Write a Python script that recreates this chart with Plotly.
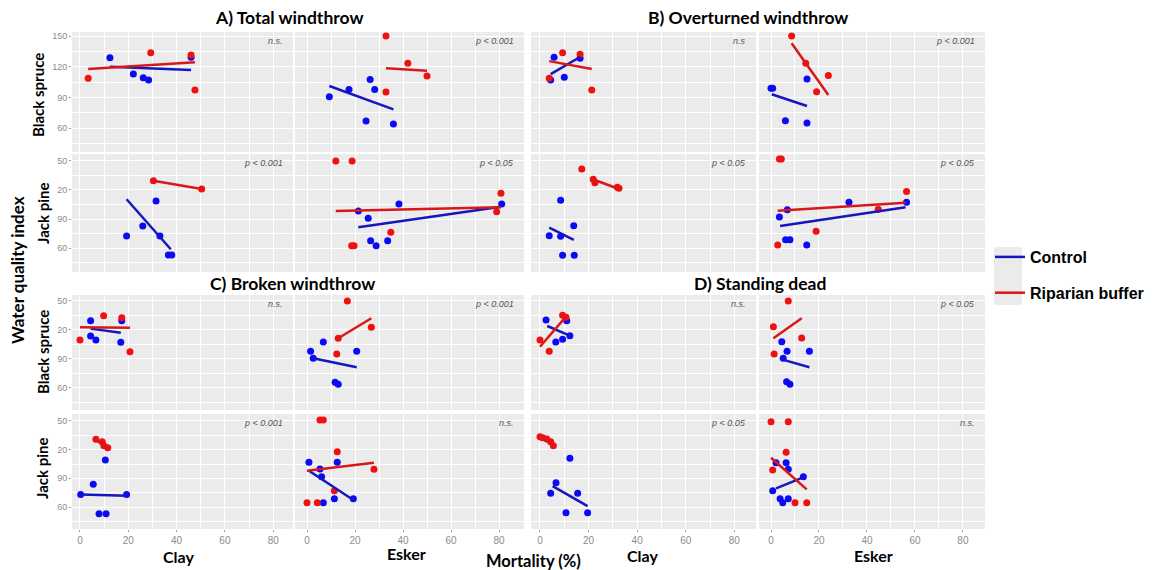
import plotly.graph_objects as go

# ---------------- DATA ----------------
# Mortality (%) on x, Water quality index on y.
# ctrl = Control (blue), rip = Riparian buffer (red); *_FIT = [x0, x1], [y0, y1] of lm lines

# A) Total windthrow
A_BS_CLAY_CTRL_X = [12.4, 22.1, 26.2, 28.4, 46.0]
A_BS_CLAY_CTRL_Y = [128.8, 112.8, 109.2, 107.0, 129.2]
A_BS_CLAY_RIP_X = [3.4, 29.3, 46.0, 47.6]
A_BS_CLAY_RIP_Y = [108.6, 133.7, 131.4, 97.2]
A_BS_CLAY_CTRL_FIT = ([12.4, 46.0], [120.0, 116.7])
A_BS_CLAY_RIP_FIT = ([3.4, 47.6], [117.7, 124.3])

A_BS_ESKER_CTRL_X = [9.3, 17.5, 26.3, 28.2, 24.6, 36.0]
A_BS_ESKER_CTRL_Y = [90.6, 97.8, 107.6, 97.8, 66.8, 63.9]
A_BS_ESKER_RIP_X = [32.9, 42.0, 50.0, 32.9]
A_BS_ESKER_RIP_Y = [150.0, 123.3, 110.9, 95.2]
A_BS_ESKER_CTRL_FIT = ([9.3, 36.0], [101.1, 78.3])
A_BS_ESKER_RIP_FIT = ([32.9, 50.0], [118.4, 116.0])

A_JP_CLAY_CTRL_X = [19.3, 26.0, 31.5, 33.1, 36.6, 38.0]
A_JP_CLAY_CTRL_Y = [72.4, 82.8, 108.6, 72.4, 52.8, 52.8]
A_JP_CLAY_RIP_X = [30.4, 50.4]
A_JP_CLAY_RIP_Y = [129.6, 121.0]
A_JP_CLAY_CTRL_FIT = ([19.3, 37.6], [110.4, 58.7])
A_JP_CLAY_RIP_FIT = ([30.4, 50.4], [129.6, 121.0])

A_JP_ESKER_CTRL_X = [21.4, 25.5, 38.3, 26.5, 28.8, 33.6, 81.1]
A_JP_ESKER_CTRL_Y = [98.3, 90.7, 105.5, 67.6, 62.4, 67.6, 105.5]
A_JP_ESKER_RIP_X = [12.0, 18.8, 34.9, 18.6, 19.6, 80.8, 79.0]
A_JP_ESKER_RIP_Y = [150.0, 150.0, 76.3, 62.4, 62.4, 116.6, 97.6]
A_JP_ESKER_CTRL_FIT = ([21.4, 80.8], [81.4, 102.7])
A_JP_ESKER_RIP_FIT = ([12.0, 80.8], [98.3, 102.1])

# B) Overturned windthrow
B_BS_CLAY_CTRL_X = [5.8, 4.4, 10.0, 16.5]
B_BS_CLAY_CTRL_Y = [129.2, 107.0, 109.6, 128.2]
B_BS_CLAY_RIP_X = [3.8, 9.3, 16.5, 21.3]
B_BS_CLAY_RIP_Y = [108.6, 133.7, 132.1, 97.2]
B_BS_CLAY_CTRL_FIT = ([4.4, 16.5], [112.8, 129.5])
B_BS_CLAY_RIP_FIT = ([3.8, 21.3], [125.5, 117.7])

B_BS_ESKER_CTRL_X = [0.0, 0.7, 15.0, 6.0, 15.0]
B_BS_ESKER_CTRL_Y = [98.8, 98.8, 107.9, 67.1, 64.9]
B_BS_ESKER_RIP_X = [8.6, 14.5, 23.9, 19.0]
B_BS_ESKER_RIP_Y = [150.0, 123.3, 111.5, 95.5]
B_BS_ESKER_CTRL_FIT = ([0.3, 15.0], [93.0, 81.5])
B_BS_ESKER_RIP_FIT = ([8.6, 23.9], [142.9, 92.3])

B_JP_CLAY_CTRL_X = [8.5, 3.8, 8.5, 13.9, 9.3, 14.1]
B_JP_CLAY_CTRL_Y = [109.4, 72.8, 72.1, 83.1, 52.5, 52.5]
B_JP_CLAY_RIP_X = [17.2, 21.9, 22.6, 31.8, 32.5]
B_JP_CLAY_RIP_Y = [141.7, 131.1, 127.6, 122.8, 121.8]
B_JP_CLAY_CTRL_FIT = ([3.8, 13.9], [81.0, 68.3])
B_JP_CLAY_RIP_FIT = ([21.7, 32.5], [131.1, 121.0])

B_JP_ESKER_CTRL_X = [6.8, 3.5, 6.1, 7.9, 14.9, 32.5, 56.5]
B_JP_ESKER_CTRL_Y = [99.6, 92.1, 68.6, 68.6, 63.1, 107.3, 107.3]
B_JP_ESKER_RIP_X = [3.5, 4.3, 2.8, 18.8, 56.5, 44.7]
B_JP_ESKER_RIP_Y = [152.0, 152.0, 63.1, 77.3, 118.3, 100.0]
B_JP_ESKER_CTRL_FIT = ([3.8, 56.1], [82.8, 102.1])
B_JP_ESKER_RIP_FIT = ([2.8, 56.1], [98.6, 106.9])

# C) Broken windthrow
C_BS_CLAY_CTRL_X = [4.4, 4.4, 6.6, 17.3, 16.9]
C_BS_CLAY_CTRL_Y = [129.6, 113.8, 109.7, 129.6, 107.3]
C_BS_CLAY_RIP_X = [0.0, 9.8, 17.3, 20.7]
C_BS_CLAY_RIP_Y = [109.7, 134.8, 132.7, 97.6]
C_BS_CLAY_CTRL_FIT = ([4.4, 16.9], [121.4, 117.2])
C_BS_CLAY_RIP_FIT = ([0.0, 20.7], [122.8, 122.4])

C_BS_ESKER_CTRL_X = [1.5, 6.8, 20.7, 2.6, 11.7, 13.0]
C_BS_ESKER_CTRL_Y = [98.0, 107.6, 98.0, 90.7, 65.9, 63.9]
C_BS_ESKER_RIP_X = [16.8, 13.0, 12.4, 26.8]
C_BS_ESKER_RIP_Y = [150.0, 111.4, 95.2, 122.8]
C_BS_ESKER_CTRL_FIT = ([2.6, 20.7], [90.7, 81.4])
C_BS_ESKER_RIP_FIT = ([13.0, 26.8], [111.4, 132.1])

C_JP_CLAY_CTRL_X = [10.5, 5.5, 0.3, 19.3, 7.9, 10.8]
C_JP_CLAY_CTRL_Y = [109.2, 83.7, 73.2, 73.2, 52.9, 52.9]
C_JP_CLAY_RIP_X = [6.6, 9.2, 9.9, 11.5]
C_JP_CLAY_RIP_Y = [130.8, 128.3, 124.1, 122.0]
C_JP_CLAY_CTRL_FIT = ([0.3, 19.3], [73.2, 71.8])
C_JP_CLAY_RIP_FIT = ([6.6, 11.5], [130.0, 122.0])

C_JP_ESKER_CTRL_X = [0.8, 12.6, 5.4, 6.1, 11.4, 6.8, 19.3]
C_JP_ESKER_CTRL_Y = [106.8, 106.8, 99.7, 91.7, 68.6, 64.5, 68.6]
C_JP_ESKER_RIP_X = [5.4, 6.8, 12.6, 27.9, 11.4, 0.0, 4.3]
C_JP_ESKER_RIP_Y = [151.0, 151.0, 117.9, 99.4, 77.0, 64.5, 64.5]
C_JP_ESKER_CTRL_FIT = ([0.8, 19.3], [98.0, 67.3])
C_JP_ESKER_RIP_FIT = ([0.0, 27.9], [98.0, 106.3])

# D) Standing dead
D_BS_CLAY_CTRL_X = [2.5, 6.5, 9.3, 11.0, 12.3]
D_BS_CLAY_CTRL_Y = [130.4, 107.6, 110.4, 129.6, 114.1]
D_BS_CLAY_RIP_X = [0.0, 3.8, 9.3, 10.7]
D_BS_CLAY_RIP_Y = [109.7, 98.0, 135.2, 133.1]
D_BS_CLAY_CTRL_FIT = ([3.0, 12.3], [124.1, 114.1])
D_BS_CLAY_RIP_FIT = ([0.0, 10.7], [102.7, 133.8])

D_BS_ESKER_CTRL_X = [4.5, 6.7, 16.0, 5.1, 6.5, 7.9]
D_BS_ESKER_CTRL_Y = [107.9, 98.0, 98.0, 90.7, 66.5, 63.9]
D_BS_ESKER_RIP_X = [7.2, 1.0, 12.8, 1.3]
D_BS_ESKER_RIP_Y = [150.0, 123.4, 111.7, 95.2]
D_BS_ESKER_CTRL_FIT = ([4.5, 16.0], [89.6, 81.4])
D_BS_ESKER_RIP_FIT = ([1.0, 12.8], [111.4, 132.1])

D_JP_CLAY_CTRL_X = [12.3, 6.6, 4.4, 15.5, 10.7, 19.6]
D_JP_CLAY_CTRL_Y = [110.9, 85.4, 74.3, 74.3, 54.0, 54.0]
D_JP_CLAY_RIP_X = [0.0, 1.1, 2.8, 4.4, 5.5]
D_JP_CLAY_RIP_Y = [133.6, 132.5, 131.2, 128.3, 124.1]
D_JP_CLAY_CTRL_FIT = ([5.2, 19.6], [81.9, 61.0])
D_JP_CLAY_RIP_FIT = ([0.0, 5.5], [134.0, 124.1])

D_JP_ESKER_CTRL_X = [2.1, 6.3, 7.2, 13.5, 0.7, 3.8, 4.9, 7.2]
D_JP_ESKER_CTRL_Y = [106.3, 106.3, 99.4, 91.7, 77.0, 68.6, 64.5, 68.6]
D_JP_ESKER_RIP_X = [0.0, 7.2, 6.3, 0.7, 10.0, 14.9]
D_JP_ESKER_RIP_Y = [149.3, 149.3, 117.2, 98.7, 64.5, 64.5]
D_JP_ESKER_CTRL_FIT = ([2.1, 14.2], [79.5, 91.7])
D_JP_ESKER_RIP_FIT = ([0.0, 14.9], [111.6, 78.5])

# significance labels per facet (panel, species, site)
P_LABELS = {
    ("A", "BS", "CLAY"): "n.s.", ("A", "BS", "ESKER"): "p < 0.001",
    ("A", "JP", "CLAY"): "p < 0.001", ("A", "JP", "ESKER"): "p < 0.05",
    ("B", "BS", "CLAY"): "n.s", ("B", "BS", "ESKER"): "p < 0.001",
    ("B", "JP", "CLAY"): "p < 0.05", ("B", "JP", "ESKER"): "p < 0.05",
    ("C", "BS", "CLAY"): "n.s.", ("C", "BS", "ESKER"): "p < 0.001",
    ("C", "JP", "CLAY"): "p < 0.001", ("C", "JP", "ESKER"): "n.s.",
    ("D", "BS", "CLAY"): "n.s.", ("D", "BS", "ESKER"): "p < 0.05",
    ("D", "JP", "CLAY"): "p < 0.05", ("D", "JP", "ESKER"): "n.s.",
}
PANEL_TITLES = {"A": "A) Total windthrow", "B": "B) Overturned windthrow",
                "C": "C) Broken windthrow", "D": "D) Standing dead"}
SPECIES_LABELS = {"BS": "Black spruce", "JP": "Jack pine"}
SITE_LABELS = {"CLAY": "Clay", "ESKER": "Esker"}

X_TICKS = [0, 20, 40, 60, 80]
X_MINOR = [-10, 10, 30, 50, 70, 90]
Y_TICKS = [60, 90, 120, 150]
Y_MINOR = [45, 75, 105, 135]
Y_TICKTEXT_TOP = ["60", "90", "120", "150"]
Y_TICKTEXT_OTHER = ["60", "90", "20", "50"]

# ---------------- LAYOUT CONSTANTS ----------------
W, H = 1159, 570
COL_PX = [(72, 293), (295, 524), (531, 756), (759, 985)]
ROW_PX = [(32, 152), (154, 272), (295, 410), (414, 529)]
X_RANGES = [[-3.3, 88.2], [-5.0, 90.4], [-3.7, 88.9], [-5.0, 89.2]]
Y_RANGES = [[36.5, 154.0], [35.2, 157.2], [37.2, 156.2], [37.0, 157.3]]

BLUE = "#0a0af5"
RED = "#f01010"
BLUE_LINE = "#1616c0"
RED_LINE = "#d81818"
FONT_T = "Lato"
FONT_L = "Liberation Sans"

PANEL_POS = {"A": (0, 0), "B": (0, 2), "C": (2, 0), "D": (2, 2)}
SP_OFF = {"BS": 0, "JP": 1}
SITE_OFF = {"CLAY": 0, "ESKER": 1}

g = globals()
fig = go.Figure()
first_ctrl = True
first_rip = True
for panel in "ABCD":
    for sp in ("BS", "JP"):
        for site in ("CLAY", "ESKER"):
            key = f"{panel}_{sp}_{site}"
            r = PANEL_POS[panel][0] + SP_OFF[sp]
            c = PANEL_POS[panel][1] + SITE_OFF[site]
            idx = r * 4 + c + 1
            xa = "x" if idx == 1 else f"x{idx}"
            ya = "y" if idx == 1 else f"y{idx}"
            fig.add_trace(go.Scatter(x=g[key + "_CTRL_X"], y=g[key + "_CTRL_Y"], mode="markers",
                                     marker=dict(color=BLUE, size=7), xaxis=xa, yaxis=ya,
                                     showlegend=False, hoverinfo="skip"))
            fig.add_trace(go.Scatter(x=g[key + "_RIP_X"], y=g[key + "_RIP_Y"], mode="markers",
                                     marker=dict(color=RED, size=7), xaxis=xa, yaxis=ya,
                                     showlegend=False, hoverinfo="skip"))
            cf = g[key + "_CTRL_FIT"]
            rf = g[key + "_RIP_FIT"]
            fig.add_trace(go.Scatter(x=cf[0], y=cf[1], mode="lines", line=dict(color=BLUE_LINE, width=2.5),
                                     xaxis=xa, yaxis=ya, name="Control", legendgroup="ctrl",
                                     showlegend=first_ctrl, hoverinfo="skip"))
            first_ctrl = False
            fig.add_trace(go.Scatter(x=rf[0], y=rf[1], mode="lines", line=dict(color=RED_LINE, width=2.5),
                                     xaxis=xa, yaxis=ya, name="Riparian buffer", legendgroup="rip",
                                     showlegend=first_rip, hoverinfo="skip"))
            first_rip = False

layout = {}
annotations = []
for r in range(4):
    for c in range(4):
        idx = r * 4 + c + 1
        sfx = "" if idx == 1 else str(idx)
        xd = [COL_PX[c][0] / W, COL_PX[c][1] / W]
        yd = [1 - ROW_PX[r][1] / H, 1 - ROW_PX[r][0] / H]
        layout["xaxis" + sfx] = dict(
            domain=xd, anchor="y" + sfx, range=X_RANGES[c], tickvals=X_TICKS,
            showticklabels=(r == 3), ticks="outside" if r == 3 else "", ticklen=2,
            tickcolor="#9a9a9a", tickfont=dict(size=10, color="#8c8c8c", family=FONT_L),
            showgrid=True, gridcolor="white", gridwidth=1.1, zeroline=False, showline=False,
            minor=dict(tickvals=X_MINOR, showgrid=True, gridcolor="white", gridwidth=0.5),
            fixedrange=True)
        layout["yaxis" + sfx] = dict(
            domain=yd, anchor="x" + sfx, range=Y_RANGES[r], tickvals=Y_TICKS,
            ticktext=Y_TICKTEXT_TOP if r == 0 else Y_TICKTEXT_OTHER,
            showticklabels=(c == 0), ticks="outside" if c == 0 else "", ticklen=2,
            tickcolor="#9a9a9a", tickfont=dict(size=9, color="#8c8c8c", family=FONT_L),
            showgrid=True, gridcolor="white", gridwidth=1.1, zeroline=False, showline=False,
            minor=dict(tickvals=Y_MINOR, showgrid=True, gridcolor="white", gridwidth=0.5),
            fixedrange=True)

for (panel, sp, site), txt in P_LABELS.items():
    r = PANEL_POS[panel][0] + SP_OFF[sp]
    c = PANEL_POS[panel][1] + SITE_OFF[site]
    idx = r * 4 + c + 1
    sfx = "" if idx == 1 else str(idx)
    annotations.append(dict(text=txt, xref=f"x{sfx} domain", yref=f"y{sfx} domain", x=0.965, y=0.985,
                            xanchor="right", yanchor="top", showarrow=False,
                            font=dict(size=9, color="#555555", family=FONT_L, style="italic")))

def px(xp, yp):
    return xp / W, 1 - yp / H

def ann(text, xp, yp, size, angle=0, family=FONT_T, weight="bold"):
    x, y = px(xp, yp)
    annotations.append(dict(text=text, xref="paper", yref="paper", x=x, y=y, xanchor="center",
                            yanchor="middle", showarrow=False, textangle=angle,
                            font=dict(size=size, color="black", family=family, weight=weight)))

ann(PANEL_TITLES["A"], 289, 18, 17.5)
ann(PANEL_TITLES["B"], 748, 18, 17.5)
ann(PANEL_TITLES["C"], 292, 283, 17.5)
ann(PANEL_TITLES["D"], 760, 283, 17.5)
ann(SPECIES_LABELS["BS"], 38, 95, 15, -90)
ann(SPECIES_LABELS["JP"], 43, 214, 15, -90)
ann(SPECIES_LABELS["BS"], 43, 352, 15, -90)
ann(SPECIES_LABELS["JP"], 42, 469, 15, -90)
ann("Water quality index", 18, 270, 17, -90)
ann(SITE_LABELS["CLAY"], 178, 556, 16)
ann(SITE_LABELS["ESKER"], 406, 553, 16)
ann("Mortality (%)", 533, 561, 16.5)
ann(SITE_LABELS["CLAY"], 642, 555, 16)
ann(SITE_LABELS["ESKER"], 873, 555, 16)

shapes = [dict(type="rect", xref="paper", yref="paper", x0=994 / W, x1=1022 / W,
               y0=1 - 305 / H, y1=1 - 247 / H, fillcolor="#ebebeb", line=dict(width=0), layer="below")]

fig.update_layout(
    width=W, height=H, margin=dict(l=0, r=0, t=0, b=0),
    paper_bgcolor="white", plot_bgcolor="#ebebeb",
    annotations=annotations, shapes=shapes,
    legend=dict(x=990 / W, y=1 - 240 / H, xanchor="left", yanchor="top", bgcolor="rgba(0,0,0,0)",
                font=dict(size=16, color="black", family=FONT_L, weight="bold"),
                traceorder="grouped", tracegroupgap=12, itemwidth=30),
    **layout,
)

fig.write_html("out.html")
